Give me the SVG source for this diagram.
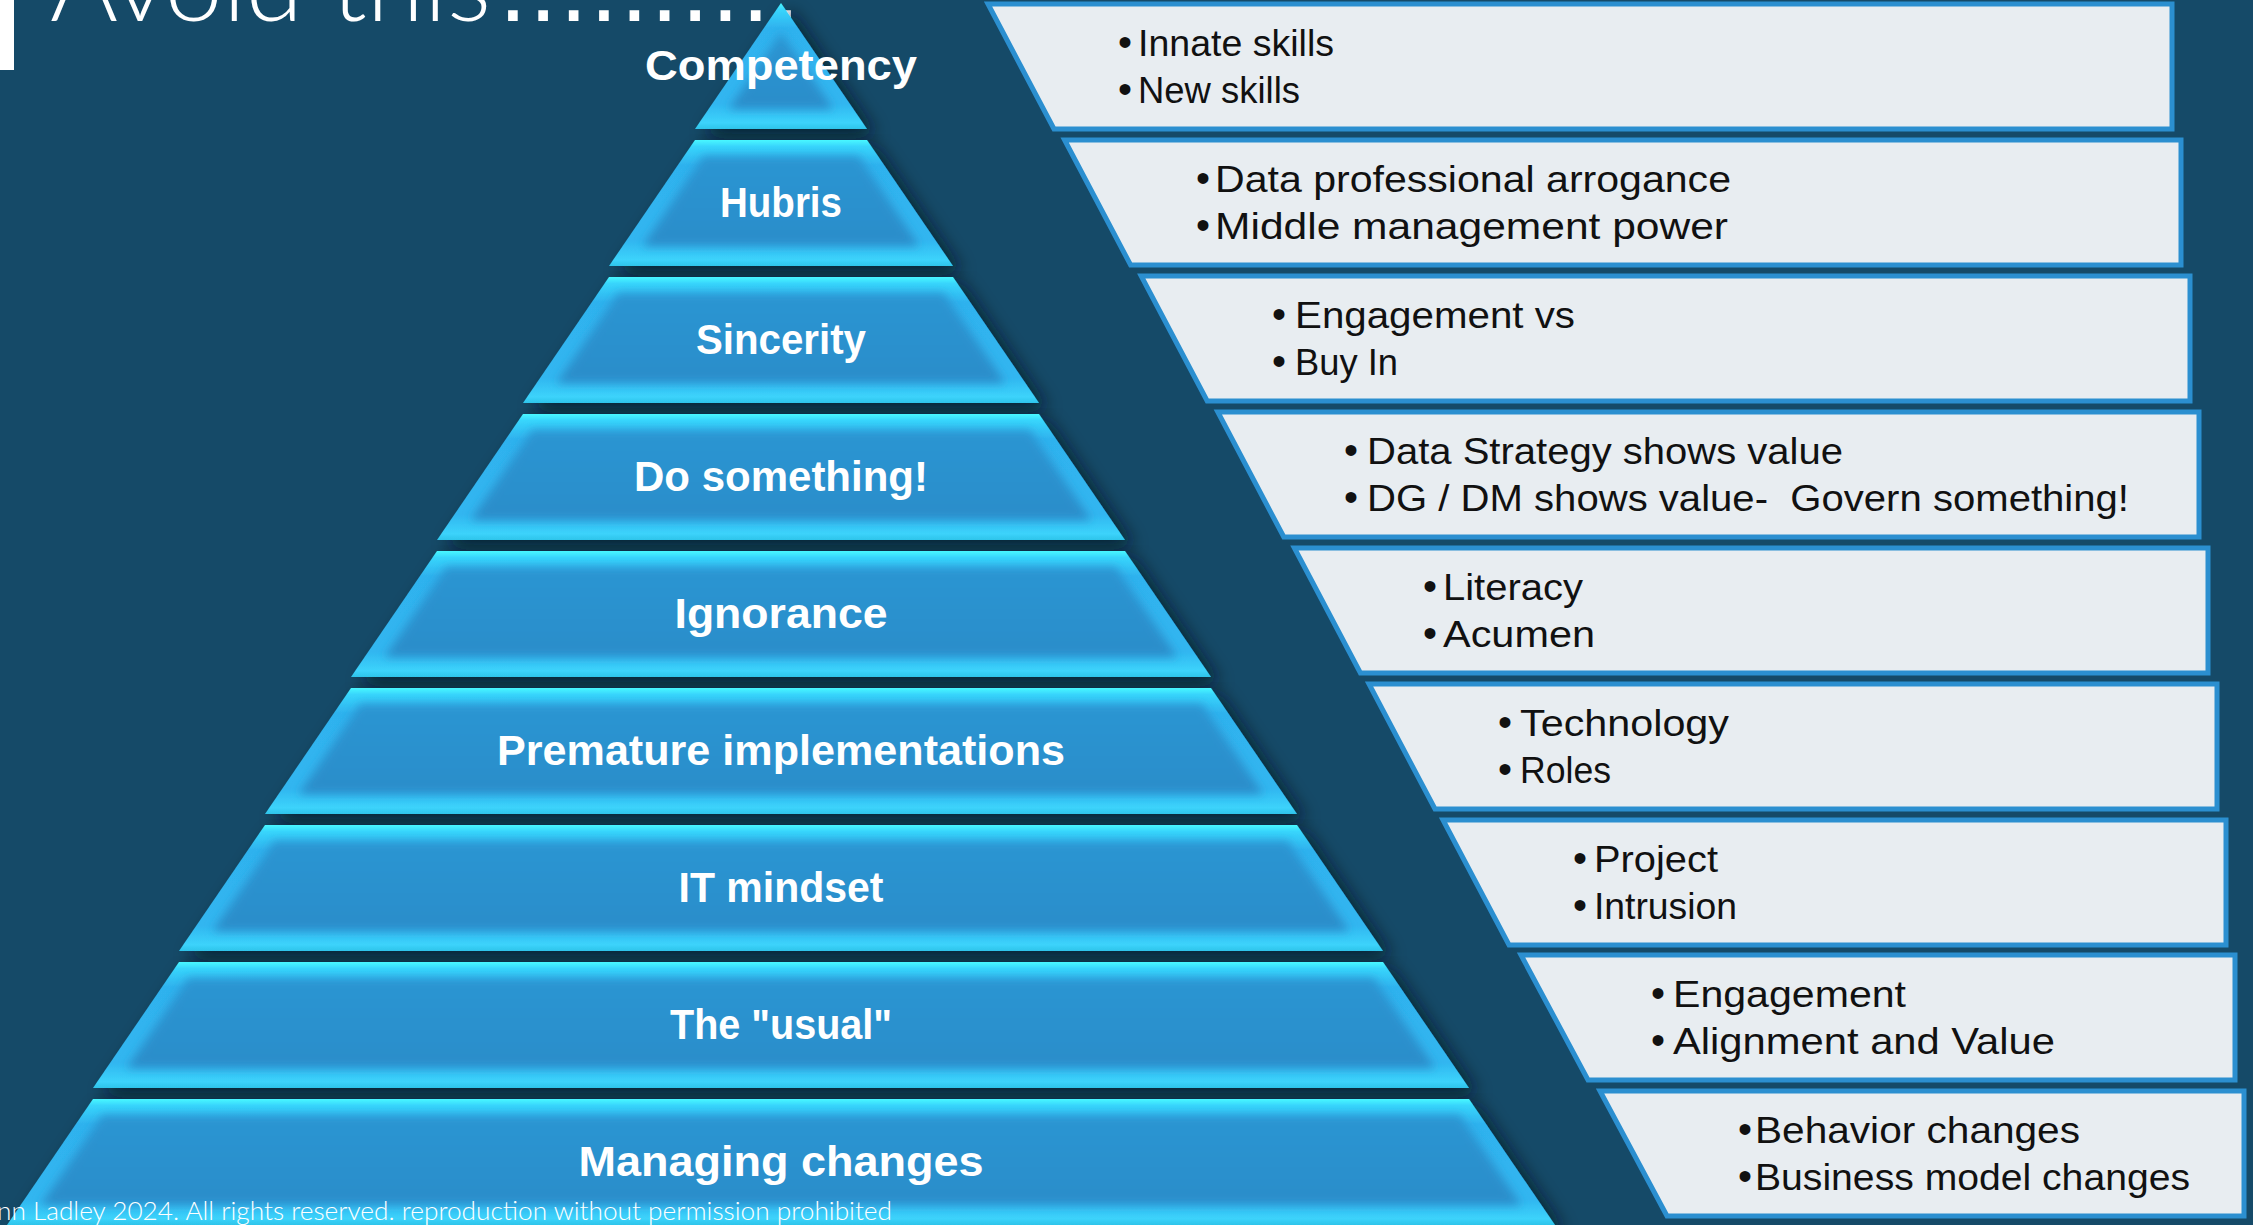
<svg xmlns="http://www.w3.org/2000/svg" width="2253" height="1225" viewBox="0 0 2253 1225">
<style>
.lbl{font-family:"Liberation Sans",Arial,sans-serif;font-weight:bold;font-size:42px;fill:#ffffff;text-anchor:middle}
.bt{font-family:"Liberation Sans",Arial,sans-serif;font-size:36px;fill:#111111}
.bu{font-family:"Liberation Sans",Arial,sans-serif;font-size:40px;fill:#111111}
.box{fill:#e8edf1;stroke:#2b8fd0;stroke-width:5;stroke-linejoin:miter}
.outer{fill:url(#bevel)}
.inner{fill:url(#face)}
.title{font-family:Lato,"Liberation Sans",sans-serif;font-weight:300;font-size:100px;fill:#ffffff}
.dots{font-family:"Liberation Sans",Arial,sans-serif;font-size:100px;fill:#ffffff}
.foot{font-family:Lato,"Liberation Sans",sans-serif;font-weight:300;font-size:26px;fill:#ffffff}
</style>
<defs>
<linearGradient id="bevel" x1="0" y1="0" x2="0" y2="1">
<stop offset="0" stop-color="#48f8ff"/>
<stop offset="0.05" stop-color="#38d6fc"/>
<stop offset="0.2" stop-color="#2fb2ee"/>
<stop offset="0.8" stop-color="#31b6f0"/>
<stop offset="0.95" stop-color="#3cd3fb"/>
<stop offset="1" stop-color="#2ec4ea"/>
</linearGradient>
<linearGradient id="face" x1="0" y1="0" x2="0" y2="1">
<stop offset="0" stop-color="#2c95d2"/>
<stop offset="1" stop-color="#2a8dca"/>
</linearGradient>
<filter id="shadow" x="-10%" y="-10%" width="130%" height="140%">
<feGaussianBlur in="SourceAlpha" stdDeviation="9"/>
<feOffset dx="9" dy="7" result="b"/>
<feFlood flood-color="#03141e" flood-opacity="0.75"/>
<feComposite in2="b" operator="in"/>
<feMerge><feMergeNode/><feMergeNode in="SourceGraphic"/></feMerge>
</filter>
<filter id="soft" x="-20%" y="-30%" width="140%" height="160%">
<feGaussianBlur stdDeviation="5"/>
</filter>
<clipPath id="c0"><polygon points="781,3 867,129 695,129"/></clipPath>
<clipPath id="c1"><polygon points="695,140 867,140 953,266 609,266"/></clipPath>
<clipPath id="c2"><polygon points="609,277 953,277 1039,403 523,403"/></clipPath>
<clipPath id="c3"><polygon points="523,414 1039,414 1125,540 437,540"/></clipPath>
<clipPath id="c4"><polygon points="437,551 1125,551 1211,677 351,677"/></clipPath>
<clipPath id="c5"><polygon points="351,688 1211,688 1297,814 265,814"/></clipPath>
<clipPath id="c6"><polygon points="265,825 1297,825 1383,951 179,951"/></clipPath>
<clipPath id="c7"><polygon points="179,962 1383,962 1469,1088 93,1088"/></clipPath>
<clipPath id="c8"><polygon points="93,1099 1469,1099 1555,1225 7,1225"/></clipPath>
</defs>

<rect x="0" y="0" width="2253" height="1225" fill="#154a68"/>

<g id="title">
<rect x="0" y="0" width="14" height="70" fill="#ffffff"/>
<text class="title" x="50" y="21" textLength="441" lengthAdjust="spacingAndGlyphs">Avoid this</text>
<text class="dots" x="499" y="21" textLength="301" lengthAdjust="spacing">..........</text>
</g>

<g id="pyramid">
<g id="tier-competency">
<polygon class="outer" filter="url(#shadow)" points="781,3 867,129 695,129"/>
<g clip-path="url(#c0)"><polygon class="inner" filter="url(#soft)" points="781,32 833.35,109 728.65,109"/></g>
<text class="lbl" x="781" y="80" textLength="272" lengthAdjust="spacingAndGlyphs">Competency</text>
</g>
<g id="tier-hubris">
<polygon class="outer" filter="url(#shadow)" points="695,140 867,140 953,266 609,266"/>
<g clip-path="url(#c1)"><polygon class="inner" filter="url(#soft)" points="703.1,156 858.9,156 919.35,246 642.65,246"/></g>
<text class="lbl" x="781" y="217" textLength="122" lengthAdjust="spacingAndGlyphs">Hubris</text>
</g>
<g id="tier-sincerity">
<polygon class="outer" filter="url(#shadow)" points="609,277 953,277 1039,403 523,403"/>
<g clip-path="url(#c2)"><polygon class="inner" filter="url(#soft)" points="618.1,293 943.9,293 1005.35,383 556.65,383"/></g>
<text class="lbl" x="781" y="354" textLength="170" lengthAdjust="spacingAndGlyphs">Sincerity</text>
</g>
<g id="tier-do-something">
<polygon class="outer" filter="url(#shadow)" points="523,414 1039,414 1125,540 437,540"/>
<g clip-path="url(#c3)"><polygon class="inner" filter="url(#soft)" points="532.1,430 1029.9,430 1091.35,520 470.65,520"/></g>
<text class="lbl" x="781" y="491" textLength="294" lengthAdjust="spacingAndGlyphs">Do something!</text>
</g>
<g id="tier-ignorance">
<polygon class="outer" filter="url(#shadow)" points="437,551 1125,551 1211,677 351,677"/>
<g clip-path="url(#c4)"><polygon class="inner" filter="url(#soft)" points="446.1,567 1115.9,567 1177.35,657 384.65,657"/></g>
<text class="lbl" x="781" y="628" textLength="213" lengthAdjust="spacingAndGlyphs">Ignorance</text>
</g>
<g id="tier-premature">
<polygon class="outer" filter="url(#shadow)" points="351,688 1211,688 1297,814 265,814"/>
<g clip-path="url(#c5)"><polygon class="inner" filter="url(#soft)" points="360.1,704 1201.9,704 1263.35,794 298.65,794"/></g>
<text class="lbl" x="781" y="765" textLength="568" lengthAdjust="spacingAndGlyphs">Premature implementations</text>
</g>
<g id="tier-it-mindset">
<polygon class="outer" filter="url(#shadow)" points="265,825 1297,825 1383,951 179,951"/>
<g clip-path="url(#c6)"><polygon class="inner" filter="url(#soft)" points="274.1,841 1287.9,841 1349.35,931 212.65,931"/></g>
<text class="lbl" x="781" y="902" textLength="205" lengthAdjust="spacingAndGlyphs">IT mindset</text>
</g>
<g id="tier-usual">
<polygon class="outer" filter="url(#shadow)" points="179,962 1383,962 1469,1088 93,1088"/>
<g clip-path="url(#c7)"><polygon class="inner" filter="url(#soft)" points="188.1,978 1373.9,978 1435.35,1068 126.65,1068"/></g>
<text class="lbl" x="781" y="1039" textLength="222" lengthAdjust="spacingAndGlyphs">The "usual"</text>
</g>
<g id="tier-managing">
<polygon class="outer" filter="url(#shadow)" points="93,1099 1469,1099 1555,1225 7,1225"/>
<g clip-path="url(#c8)"><polygon class="inner" filter="url(#soft)" points="102.1,1115 1459.9,1115 1521.35,1205 40.65,1205"/></g>
<text class="lbl" x="781" y="1176" textLength="405" lengthAdjust="spacingAndGlyphs">Managing changes</text>
</g>
</g>

<g id="boxes">
<g id="box-0">
<polygon class="box" points="988,4 2172,4 2172,129 1054,129"/>
<text class="bu" x="1118" y="56">•</text>
<text class="bt" x="1138" y="56" textLength="196" lengthAdjust="spacingAndGlyphs">Innate skills</text>
<text class="bu" x="1118" y="103">•</text>
<text class="bt" x="1138" y="103" textLength="162" lengthAdjust="spacingAndGlyphs">New skills</text>
</g>
<g id="box-1">
<polygon class="box" points="1064.6,140 2181,140 2181,265 1130.6,265"/>
<text class="bu" x="1196" y="192">•</text>
<text class="bt" x="1215" y="192" textLength="516" lengthAdjust="spacingAndGlyphs">Data professional arrogance</text>
<text class="bu" x="1196" y="239">•</text>
<text class="bt" x="1215" y="239" textLength="513" lengthAdjust="spacingAndGlyphs">Middle management power</text>
</g>
<g id="box-2">
<polygon class="box" points="1141.2,276 2190,276 2190,401 1207.2,401"/>
<text class="bu" x="1272" y="328">•</text>
<text class="bt" x="1295" y="328" textLength="280" lengthAdjust="spacingAndGlyphs">Engagement vs</text>
<text class="bu" x="1272" y="375">•</text>
<text class="bt" x="1295" y="375" textLength="103" lengthAdjust="spacingAndGlyphs">Buy In</text>
</g>
<g id="box-3">
<polygon class="box" points="1217.8,412 2199,412 2199,537 1283.8,537"/>
<text class="bu" x="1344" y="464">•</text>
<text class="bt" x="1367" y="464" textLength="476" lengthAdjust="spacingAndGlyphs">Data Strategy shows value</text>
<text class="bu" x="1344" y="511">•</text>
<text class="bt" x="1367" y="511" textLength="762" lengthAdjust="spacingAndGlyphs" xml:space="preserve">DG / DM shows value-  Govern something!</text>
</g>
<g id="box-4">
<polygon class="box" points="1294.4,548 2208,548 2208,673 1360.4,673"/>
<text class="bu" x="1423" y="600">•</text>
<text class="bt" x="1443" y="600" textLength="140" lengthAdjust="spacingAndGlyphs">Literacy</text>
<text class="bu" x="1423" y="647">•</text>
<text class="bt" x="1443" y="647" textLength="152" lengthAdjust="spacingAndGlyphs">Acumen</text>
</g>
<g id="box-5">
<polygon class="box" points="1369,684 2217,684 2217,809 1435,809"/>
<text class="bu" x="1498" y="736">•</text>
<text class="bt" x="1520" y="736" textLength="209" lengthAdjust="spacingAndGlyphs">Technology</text>
<text class="bu" x="1498" y="783">•</text>
<text class="bt" x="1520" y="783" textLength="91" lengthAdjust="spacingAndGlyphs">Roles</text>
</g>
<g id="box-6">
<polygon class="box" points="1443,820 2226,820 2226,945 1509,945"/>
<text class="bu" x="1573" y="872">•</text>
<text class="bt" x="1594" y="872" textLength="124" lengthAdjust="spacingAndGlyphs">Project</text>
<text class="bu" x="1573" y="919">•</text>
<text class="bt" x="1594" y="919" textLength="143" lengthAdjust="spacingAndGlyphs">Intrusion</text>
</g>
<g id="box-7">
<polygon class="box" points="1521,955 2235,955 2235,1080 1588,1080"/>
<text class="bu" x="1651" y="1007">•</text>
<text class="bt" x="1673" y="1007" textLength="233" lengthAdjust="spacingAndGlyphs">Engagement</text>
<text class="bu" x="1651" y="1054">•</text>
<text class="bt" x="1673" y="1054" textLength="382" lengthAdjust="spacingAndGlyphs">Alignment and Value</text>
</g>
<g id="box-8">
<polygon class="box" points="1600,1091 2244,1091 2244,1216 1667,1216"/>
<text class="bu" x="1738" y="1143">•</text>
<text class="bt" x="1755" y="1143" textLength="325" lengthAdjust="spacingAndGlyphs">Behavior changes</text>
<text class="bu" x="1738" y="1190">•</text>
<text class="bt" x="1755" y="1190" textLength="435" lengthAdjust="spacingAndGlyphs">Business model changes</text>
</g>
</g>

<g id="footer">
<text class="foot" x="-3" y="1220" textLength="895" lengthAdjust="spacingAndGlyphs">nn Ladley 2024. All rights reserved. reproduction without permission prohibited</text>
</g>
</svg>
